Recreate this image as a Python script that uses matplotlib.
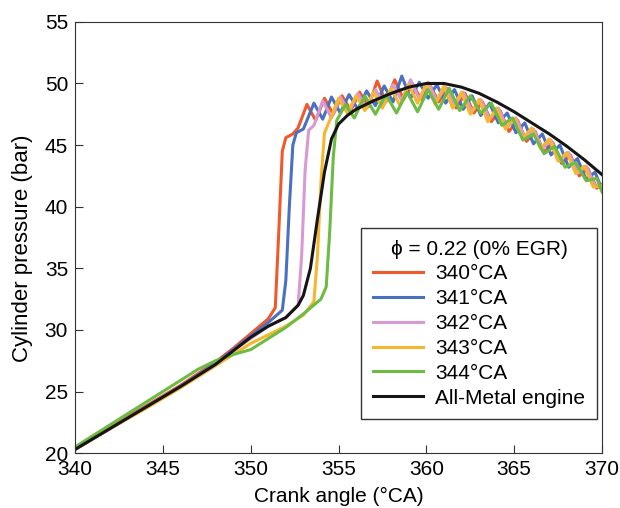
## Cylinder pressure traces vs crank angle, several ignition timings

import matplotlib.pyplot as plt

plt.rcParams['font.family'] = ['Liberation Sans', 'DejaVu Sans']

## DATA

x_340 = [340, 342, 344, 346, 348, 349, 350, 351, 351.4, 351.6, 351.8, 352.0, 352.4, 352.7,
         353.2, 353.7, 354.2, 354.7, 355.2, 355.7, 356.2, 356.7, 357.2, 357.7, 358.2, 358.7,
         359.2, 359.7, 360.2, 360.7, 361.2, 361.7, 362.2, 362.7, 363.2, 363.7, 364.2, 364.7,
         365.2, 365.7, 366.2, 366.7, 367.2, 367.7, 368.2, 368.7, 369.2, 369.7, 370.0]
p_340 = [20.4, 22.1, 23.8, 25.5, 27.4, 28.5, 29.7, 30.9, 31.8, 38.0, 44.5, 45.6, 45.9, 46.4,
         48.3, 47.0, 48.8, 47.5, 49.0, 47.8, 49.3, 48.1, 50.2, 48.5, 50.3, 48.7,
         50.0, 48.7, 49.9, 48.5, 49.6, 48.0, 49.2, 47.6, 48.5, 46.9, 47.8, 46.1,
         47.0, 45.3, 46.1, 44.4, 45.2, 43.5, 44.2, 42.5, 43.1, 41.5, 41.8]

x_341 = [340, 342, 344, 346, 348, 349, 350, 351, 351.8, 352.0, 352.2, 352.4, 352.6, 353.0,
         353.6, 354.1, 354.6, 355.1, 355.6, 356.1, 356.6, 357.1, 357.6, 358.1, 358.6, 359.1,
         359.6, 360.1, 360.6, 361.1, 361.6, 362.1, 362.6, 363.1, 363.6, 364.1, 364.6, 365.1,
         365.6, 366.1, 366.6, 367.1, 367.6, 368.1, 368.6, 369.1, 369.6, 370.0]
p_341 = [20.3, 22.0, 23.7, 25.4, 27.3, 28.4, 29.5, 30.6, 31.6, 34.0, 40.0, 45.0, 46.0, 46.3,
         48.4, 47.1, 48.9, 47.6, 49.1, 47.9, 49.4, 48.2, 49.8, 48.5, 50.6, 48.8,
         50.1, 48.8, 49.9, 48.4, 49.5, 47.9, 49.0, 47.4, 48.4, 46.8, 47.6, 46.0,
         46.8, 45.1, 45.9, 44.2, 45.0, 43.2, 43.9, 42.2, 42.8, 41.4]

x_342 = [340, 342, 344, 346, 348, 349, 350, 351, 352, 352.7, 352.9, 353.1, 353.3, 353.6,
         354.1, 354.6, 355.1, 355.6, 356.1, 356.6, 357.1, 357.6, 358.1, 358.6, 359.1, 359.6,
         360.1, 360.6, 361.1, 361.6, 362.1, 362.6, 363.1, 363.6, 364.1, 364.6, 365.1, 365.6,
         366.1, 366.6, 367.1, 367.6, 368.1, 368.6, 369.1, 369.6, 370.0]
p_342 = [20.3, 22.0, 23.7, 25.4, 27.2, 28.3, 29.3, 30.3, 31.0, 32.0, 36.0, 43.0, 46.2, 46.6,
         48.6, 47.2, 48.9, 47.7, 49.2, 48.0, 49.5, 48.3, 49.9, 48.6, 50.3, 48.7,
         50.1, 48.6, 49.7, 48.2, 49.3, 47.7, 48.7, 47.1, 48.0, 46.4, 47.2, 45.6,
         46.3, 44.7, 45.4, 43.7, 44.4, 42.7, 43.3, 41.7, 41.6]

x_343 = [340, 342, 344, 346, 348, 349, 350, 351, 352, 353, 353.6, 353.8, 354.0, 354.2,
         354.5, 355.0, 355.5, 356.0, 356.5, 357.0, 357.5, 358.0, 358.5, 359.0, 359.5, 360.0,
         360.5, 361.0, 361.5, 362.0, 362.5, 363.0, 363.5, 364.0, 364.5, 365.0, 365.5, 366.0,
         366.5, 367.0, 367.5, 368.0, 368.5, 369.0, 369.5, 370.0]
p_343 = [20.3, 22.0, 23.6, 25.3, 27.1, 28.0, 28.9, 29.6, 30.3, 31.2, 32.3, 36.0, 42.0, 46.0,
         47.0, 48.8, 47.6, 49.0, 47.8, 49.3, 48.0, 49.6, 48.2, 49.9, 48.4, 50.0,
         48.3, 49.8, 48.0, 49.3, 47.5, 48.7, 46.9, 48.0, 46.3, 47.2, 45.5, 46.4,
         44.7, 45.5, 43.7, 44.4, 42.7, 43.3, 41.6, 41.7]

x_344 = [340, 342, 344, 346, 347, 348, 349, 350, 351, 352, 353, 354, 354.3, 354.5,
         354.7, 354.9, 355.4, 355.9, 356.5, 357.1, 357.7, 358.3, 358.9, 359.5, 360.1, 360.7,
         361.3, 361.9, 362.5, 363.1, 363.7, 364.3, 364.9, 365.5, 366.1, 366.7, 367.3, 367.9,
         368.5, 369.1, 369.7, 370.0]
p_344 = [20.5, 22.3, 24.1, 25.9, 26.8, 27.5, 28.0, 28.4, 29.3, 30.2, 31.3, 32.5, 33.5, 38.0,
         44.0, 47.0, 48.3, 47.2, 49.0, 47.5, 49.1, 47.6, 49.3, 47.7, 49.5, 47.9,
         49.6, 47.8, 49.0, 47.6, 48.4, 46.6, 47.2, 45.4, 45.9, 44.3, 44.9, 43.2,
         43.6, 42.1, 42.3, 41.2]

x_metal = [340, 342, 344, 346, 348, 349, 350, 351, 352, 352.7, 353.0, 353.4, 353.8, 354.2,
           354.6, 355.0, 355.5, 356, 357, 358, 359, 360, 361, 362, 363, 364, 365, 366,
           367, 368, 369, 370]
p_metal = [20.3, 22.0, 23.7, 25.4, 27.2, 28.3, 29.4, 30.3, 31.0, 32.0, 32.8, 35.0, 39.0, 42.8,
           45.5, 46.7, 47.4, 47.9, 48.6, 49.2, 49.7, 50.0, 50.0, 49.7, 49.2, 48.5, 47.7, 46.8,
           45.9, 44.9, 43.8, 42.6]

labels = ['340°CA', '341°CA', '342°CA', '343°CA', '344°CA', 'All-Metal engine']
colors = ['#F05A2A', '#4A70C2', '#D89AD2', '#F6B62E', '#6CBB45', '#151515']

## PLOT

fig = plt.figure(figsize=(6.2, 5.08), dpi=100)
ax = fig.add_axes([0.121, 0.108, 0.850, 0.849])

series = [(x_340, p_340), (x_341, p_341), (x_342, p_342), (x_343, p_343),
          (x_344, p_344), (x_metal, p_metal)]
for (xs, ps), lab, col in zip(series, labels, colors):
    ax.plot(xs, ps, color=col, lw=2.2, label=lab, solid_joinstyle='round')

ax.set_xlim(340, 370)
ax.set_ylim(20, 55)
ax.set_xticks([340, 345, 350, 355, 360, 365, 370])
ax.set_yticks([20, 25, 30, 35, 40, 45, 50, 55])
ax.tick_params(direction='in', length=6, labelsize=15, color='#333333', pad=5)
for s in ax.spines.values():
    s.set_color('#333333')
ax.set_xlabel('Crank angle (°CA)', fontsize=15, labelpad=6)
ax.set_ylabel('Cylinder pressure (bar)', fontsize=16)
ax.yaxis.set_label_coords(-0.08, 0.476)

leg = ax.legend(loc='lower right', bbox_to_anchor=(0.99, 0.079), fontsize=15,
                title='ϕ = 0.22 (0% EGR)', title_fontsize=15, fancybox=False,
                edgecolor='#333333', framealpha=1, handlelength=2.4,
                handletextpad=0.6, labelspacing=0.28, borderpad=0.55,
                borderaxespad=0)
leg.get_frame().set_linewidth(1.0)

plt.savefig('out.png', dpi=100)
plt.close()
